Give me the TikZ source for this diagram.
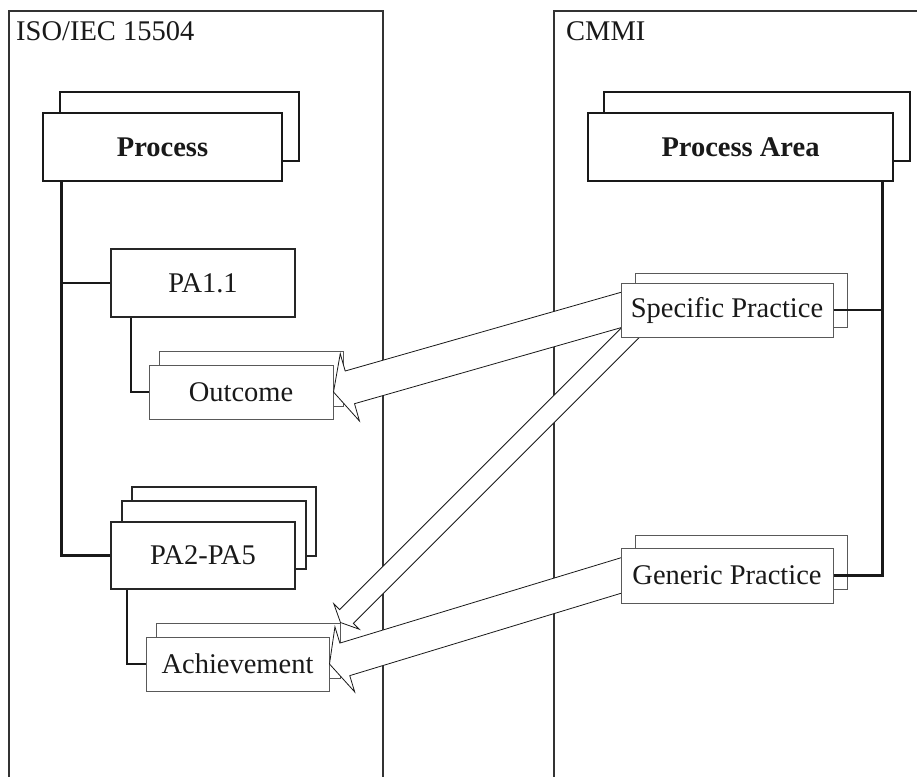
\documentclass[tikz,border=0pt]{standalone}
\usepackage{fontspec}
\setmainfont{Liberation Serif}
\usetikzlibrary{calc}
\tikzset{
  txt/.style={font=\fontsize{28.5}{34}\selectfont, text=black!90},
  panel/.style={draw=black!80, line width=1.2pt},
  box/.style={rectangle, inner sep=0pt, fill=white, txt},
  bigbox/.style={box, draw=black!90, line width=2.6pt, font=\bfseries\fontsize{28.5}{34}\selectfont},
  midbox/.style={box, draw=black!85, line width=1.5pt},
  smallbox/.style={box, draw=black!65, line width=1pt},
  trunk/.style={draw=black!90, line width=2.5pt},
  subline/.style={draw=black!90, line width=1.6pt},
  blockarrow/.style={draw=black!90, line width=0.8pt, fill=white, line join=miter},
}
\newcommand\blkarrow[5]{%
  \coordinate (ba-b) at ($(#2)!#5!(#1)$);
  \draw[blockarrow] ($(#1)!#3!90:(#2)$) -- ($(ba-b)!#3!90:(#2)$) -- ($(ba-b)!#4!90:(#2)$)
    -- (#2) -- ($(ba-b)!#4!-90:(#2)$) -- ($(ba-b)!#3!-90:(#2)$) -- ($(#1)!#3!-90:(#2)$) -- cycle;
}
\begin{document}
\begin{tikzpicture}[x=1pt,y=-1pt]
\useasboundingbox (0,0) rectangle (917,776);
\clip (0,0) rectangle (917,776);
\fill[white] (0,0) rectangle (917,776);

% panels
\draw[panel] (9,11) rectangle (383,800);
\draw[panel] (554,11) rectangle (940,800);
\node[txt, inner sep=0pt, anchor=base west] (isolbl) at (16,41) {ISO/IEC 15504};
\node[txt, inner sep=0pt, anchor=base west] (cmmilbl) at (566,41) {CMMI};

% left side boxes
\node[bigbox, minimum width=239pt, minimum height=69pt] (procb) at (179.5,126.5) {};
\node[bigbox, minimum width=239pt, minimum height=68pt] (procf) at (162.5,147) {Process};

\node[midbox, minimum width=184pt, minimum height=68pt] (pa11) at (203,283) {PA1.1};

\node[smallbox, minimum width=184pt, minimum height=55pt] (outb) at (251,378.5) {};
\node[smallbox, minimum width=184pt, minimum height=54pt] (outf) at (241,392) {Outcome};

\node[midbox, minimum width=184pt, minimum height=69pt] (pa25b) at (224,521.5) {};
\node[midbox, minimum width=184pt, minimum height=68pt] (pa25m) at (214,535) {};
\node[midbox, minimum width=184pt, minimum height=67pt] (pa25) at (203,555.5) {PA2-PA5};

\node[smallbox, minimum width=184pt, minimum height=55pt] (achb) at (248,650.5) {};
\node[smallbox, minimum width=183pt, minimum height=54pt] (achf) at (237.5,664) {Achievement};

% left hierarchy
\coordinate (ltrunk) at ($(procf.south west)+(20,0)$);
\draw[trunk] (ltrunk) |- (pa25.west);
\draw[trunk] (pa11.west) -- (pa11.west -| ltrunk);
\draw[subline] ($(pa11.south west)+(21,0)$) |- (outf.west);
\draw[subline] ($(pa25.south west)+(17,0)$) |- (achf.west);

% right side: coordinates for the boxes (drawn later, over the arrows)
\coordinate (spc) at (727,310);
\coordinate (gpc) at (727,575.5);

% block arrows (tails hidden under the right boxes)
\coordinate (a1t) at ($(spc)+(-77,-8.3)$);
\coordinate (a2t) at ($(spc)+(-77,3)$);
\coordinate (a3t) at ($(gpc)+(-77,-8.8)$);
\blkarrow{a1t}{outf.east}{17pt}{35pt}{17pt}
\blkarrow{a3t}{achf.east}{17pt}{34pt}{16pt}
\blkarrow{a2t}{achb.north east}{9.7pt}{18pt}{8.5pt}

% right boxes
\node[bigbox, minimum width=306pt, minimum height=69pt] (pab) at (757,126.5) {};
\node[bigbox, minimum width=305pt, minimum height=68pt] (paf) at (740.5,147) {Process Area};

\node[smallbox, minimum width=212pt, minimum height=54pt] (spb) at (741,300) {};
\node[smallbox, minimum width=212pt, minimum height=54pt] (spf) at (spc) {Specific Practice};

\node[smallbox, minimum width=212pt, minimum height=54pt] (gpb) at (741,562) {};
\node[smallbox, minimum width=212pt, minimum height=55pt] (gpf) at (gpc) {Generic Practice};

% right hierarchy
\coordinate (rtrunk) at ($(paf.south east)+(-12,0)$);
\draw[trunk, line width=2.9pt] (rtrunk) |- (gpf.east);
\draw[trunk, line width=2.9pt] (spf.east) -- (spf.east -| rtrunk);
\end{tikzpicture}
\end{document}
